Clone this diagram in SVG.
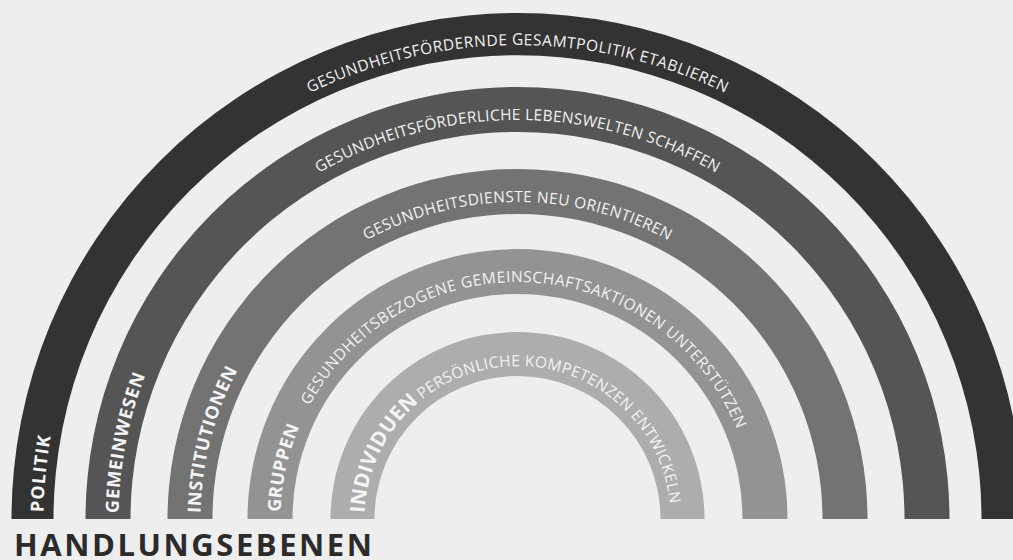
<svg xmlns="http://www.w3.org/2000/svg" xmlns:xlink="http://www.w3.org/1999/xlink" width="1013" height="560" viewBox="0 0 1013 560">
<style>
.reg{font-family:"Open Sans","Liberation Sans",sans-serif;font-size:15.5px;fill:#f2f2f2;}
.lbl{font-family:"Open Sans","Liberation Sans",sans-serif;font-size:18px;font-weight:700;fill:#f4f4f4;}
.title{font-family:"Open Sans","Liberation Sans",sans-serif;font-size:31px;font-weight:700;fill:#2b2b2b;}
</style>
<defs>
<path id="p1" d="M 43.5 519 A 474 474 0 0 1 991.5 519"/>
<path id="p2" d="M 118.5 519 A 399 399 0 0 1 916.5 519"/>
<path id="p3" d="M 200.5 519 A 317 317 0 0 1 834.5 519"/>
<path id="p4" d="M 280.5 519 A 237 237 0 0 1 754.5 519"/>
<path id="p5" d="M 364.5 519 A 153 153 0 0 1 670.5 519"/>
</defs>
<rect width="1013" height="560" fill="#eeeeee"/>
<g id="politik">
<path d="M 11.5 519 A 506 506 0 0 1 1023.5 519 L 981.5 519 A 464 464 0 0 0 53.5 519 Z" fill="#333333"/>
<text class="lbl"><textPath href="#p1" xlink:href="#p1" startOffset="7" textLength="76">POLITIK</textPath></text>
<text class="reg" text-anchor="middle"><textPath href="#p1" xlink:href="#p1" startOffset="50%" textLength="430">GESUNDHEITSFÖRDERNDE GESAMTPOLITIK ETABLIEREN</textPath></text>
</g>
<g id="gemeinwesen">
<path d="M 85.5 519 A 432 432 0 0 1 949.5 519 L 904.5 519 A 387 387 0 0 0 130.5 519 Z" fill="#555555"/>
<text class="lbl"><textPath href="#p2" xlink:href="#p2" startOffset="6" textLength="141">GEMEINWESEN</textPath></text>
<text class="reg" text-anchor="middle"><textPath href="#p2" xlink:href="#p2" startOffset="50%" textLength="416">GESUNDHEITSFÖRDERLICHE LEBENSWELTEN SCHAFFEN</textPath></text>
</g>
<g id="institutionen">
<path d="M 167.5 519 A 350 350 0 0 1 867.5 519 L 822.5 519 A 305 305 0 0 0 212.5 519 Z" fill="#737373"/>
<text class="lbl"><textPath href="#p3" xlink:href="#p3" startOffset="6" textLength="149">INSTITUTIONEN</textPath></text>
<text class="reg" text-anchor="middle"><textPath href="#p3" xlink:href="#p3" startOffset="50%" textLength="315">GESUNDHEITSDIENSTE NEU ORIENTIEREN</textPath></text>
</g>
<g id="gruppen">
<path d="M 247.5 519 A 270 270 0 0 1 787.5 519 L 742.5 519 A 225 225 0 0 0 292.5 519 Z" fill="#939393"/>
<text class="lbl"><textPath href="#p4" xlink:href="#p4" startOffset="7" textLength="88">GRUPPEN</textPath></text>
<text class="reg"><textPath href="#p4" xlink:href="#p4" startOffset="118" textLength="534">GESUNDHEITSBEZOGENE GEMEINSCHAFTSAKTIONEN UNTERSTÜTZEN</textPath></text>
</g>
<g id="individuen">
<path d="M 330.5 519 A 187 187 0 0 1 704.5 519 L 660.5 519 A 143 143 0 0 0 374.5 519 Z" fill="#adadad"/>
<text class="lbl" style="font-size:20.5px"><textPath href="#p5" xlink:href="#p5" startOffset="6" textLength="127">INDIVIDUEN</textPath></text>
<text class="reg"><textPath href="#p5" xlink:href="#p5" startOffset="137" textLength="328">PERSÖNLICHE KOMPETENZEN ENTWICKELN</textPath></text>
</g>
<g id="title">
<text class="title" x="14" y="556" textLength="358">HANDLUNGSEBENEN</text>
</g>
</svg>
